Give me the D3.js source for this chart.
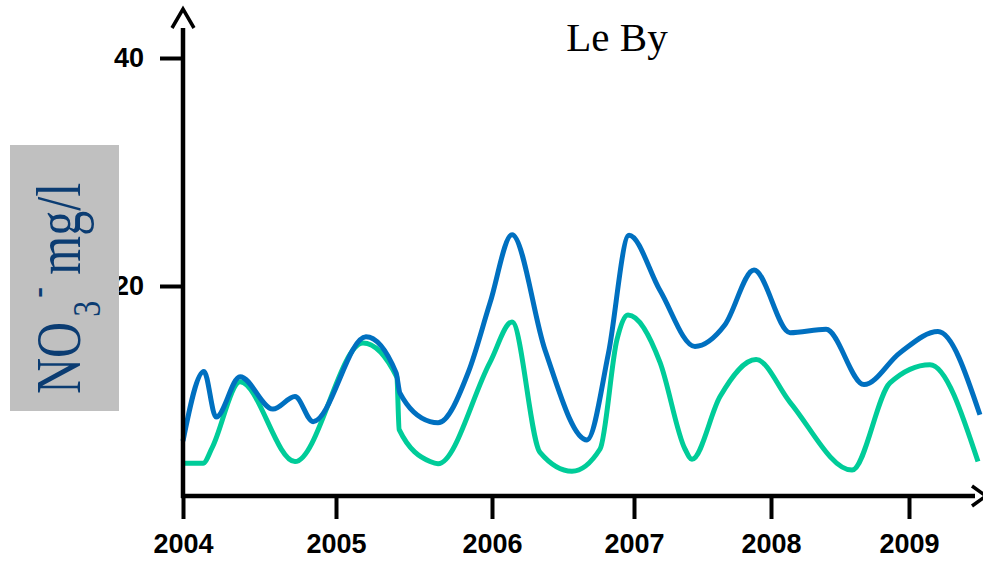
<!DOCTYPE html>
<html>
<head>
<meta charset="utf-8">
<script src="https://cdn.jsdelivr.net/npm/d3@7"></script>
<style>
  html, body { margin: 0; padding: 0; background: #fff; }
  svg { display: block; }
</style>
</head>
<body>
<svg id="chart" width="983" height="563"></svg>
<script>
// ---- data ----
const title = "Le By";
const yTicks = [20, 40];
const xTicks = [2004, 2005, 2006, 2007, 2008, 2009];
const xTickLabels = ["2004", "2005", "2006", "2007", "2008", "2009"];

// series 1 (blue): decimal year, NO3 mg/l
const blueYears  = [2004.00, 2004.137, 2004.216, 2004.373, 2004.588, 2004.732, 2004.850, 2005.192, 2005.385, 2005.410, 2005.603, 2005.654, 2005.850, 2005.987, 2006.141, 2006.373, 2006.669, 2006.820, 2006.965, 2007.190, 2007.445, 2007.664, 2007.876, 2008.138, 2008.399, 2008.674, 2008.935, 2009.210, 2009.514];
const blueValues = [6.4, 12.5, 8.5, 12.05, 9.2, 10.3, 8.1, 15.55, 12.4, 10.6, 8.1, 8.0, 12.5, 18.5, 24.5, 14.4, 6.5, 14.1, 24.45, 19.6, 14.7, 16.6, 21.4, 15.9, 16.2, 11.35, 14.15, 16.0, 8.7];

// series 2 (green)
const greenYears  = [2004.00, 2004.131, 2004.190, 2004.373, 2004.732, 2005.173, 2005.390, 2005.405, 2005.603, 2005.654, 2005.987, 2006.141, 2006.338, 2006.563, 2006.761, 2006.880, 2006.958, 2007.190, 2007.372, 2007.423, 2007.628, 2007.891, 2008.138, 2008.587, 2008.862, 2009.152, 2009.500];
const greenValues = [4.45, 4.45, 5.8, 11.6, 4.6, 15.0, 12.0, 7.4, 4.6, 4.4, 13.3, 16.85, 5.4, 3.75, 5.7, 15.3, 17.45, 13.3, 5.7, 4.8, 10.3, 13.55, 9.8, 3.85, 11.5, 13.1, 4.6];

const blueColor = "#0070c0";
const greenColor = "#00cc99";

// ---- layout ----
const svg = d3.select("#chart");
const x = d3.scaleLinear()
  .domain([2004, 2005, 2006, 2007, 2008, 2009, 2010])
  .range([183, 336, 492, 634, 771, 909, 1047]);
const y = d3.scaleLinear().domain([0, 40]).range([514, 58]);
const axisY = 496;   // pixel row of the horizontal axis
const axisX = 183;

const line = d3.line()
  .x(d => x(d[0]))
  .y(d => y(d[1]))
  .curve(d3.curveMonotoneX);

const blueData = blueYears.map((t, i) => [t, blueValues[i]]);
const greenData = greenYears.map((t, i) => [t, greenValues[i]]);

svg.append("path").datum(greenData)
  .attr("d", line).attr("fill", "none")
  .attr("stroke", greenColor).attr("stroke-width", 5)
  .attr("stroke-linejoin", "round");
svg.append("path").datum(blueData)
  .attr("d", line).attr("fill", "none")
  .attr("stroke", blueColor).attr("stroke-width", 5)
  .attr("stroke-linejoin", "round");

// ---- axes ----
const fontAxis = "'Liberation Sans', Arial, sans-serif";

const gy = svg.append("g").attr("transform", `translate(${axisX},0)`)
  .call(d3.axisLeft(y).tickValues(yTicks).tickSize(23).tickPadding(16).tickFormat(d3.format("d")));
gy.select(".domain").remove();
gy.selectAll(".tick line").attr("stroke", "#000").attr("stroke-width", 4);
gy.selectAll(".tick text").attr("font-family", fontAxis).attr("font-weight", "bold")
  .attr("font-size", 27).attr("fill", "#000");

const gx = svg.append("g").attr("transform", `translate(0,${axisY})`)
  .call(d3.axisBottom(x).tickValues(xTicks).tickSize(23).tickPadding(15)
    .tickFormat((d, i) => xTickLabels[i]));
gx.select(".domain").remove();
gx.selectAll(".tick line").attr("stroke", "#000").attr("stroke-width", 4);
gx.selectAll(".tick text").attr("font-family", fontAxis).attr("font-weight", "bold")
  .attr("font-size", 27).attr("fill", "#000");

// axis lines with arrows
svg.append("line").attr("x1", axisX).attr("x2", axisX).attr("y1", 28).attr("y2", axisY + 2)
  .attr("stroke", "#000").attr("stroke-width", 4.5);
svg.append("line").attr("x1", axisX - 2).attr("x2", 975).attr("y1", axisY).attr("y2", axisY)
  .attr("stroke", "#000").attr("stroke-width", 4.5);
svg.append("path").attr("d", `M${axisX - 11},28 L${axisX},9 L${axisX + 11},28`)
  .attr("fill", "none").attr("stroke", "#000").attr("stroke-width", 3.5);
svg.append("path").attr("d", `M972,486 L986,${axisY} L972,506`)
  .attr("fill", "none").attr("stroke", "#000").attr("stroke-width", 3.5);

// ---- title ----
svg.append("text").attr("x", 617).attr("y", 51).attr("text-anchor", "middle")
  .attr("font-family", "'Liberation Serif', 'Times New Roman', serif")
  .attr("font-size", 41).attr("fill", "#000").text(title);

// ---- y-axis label box ----
svg.append("rect").attr("x", 10).attr("y", 145).attr("width", 109).attr("height", 266)
  .attr("fill", "#c0c0c0");
const lab = svg.append("text")
  .attr("transform", "translate(80,394) rotate(-90) scale(1,1.27)")
  .attr("font-family", "'Liberation Serif', 'Times New Roman', serif")
  .attr("font-size", 50).attr("fill", "#0b3c72");
lab.append("tspan").text("NO");
lab.append("tspan").attr("font-size", 32).attr("dy", 16).attr("dx", 5).text("3");
lab.append("tspan").attr("font-size", 32).attr("dy", -40).attr("dx", 3).text("-");
lab.append("tspan").attr("dy", 24).text(" mg/l");
</script>
</body>
</html>
